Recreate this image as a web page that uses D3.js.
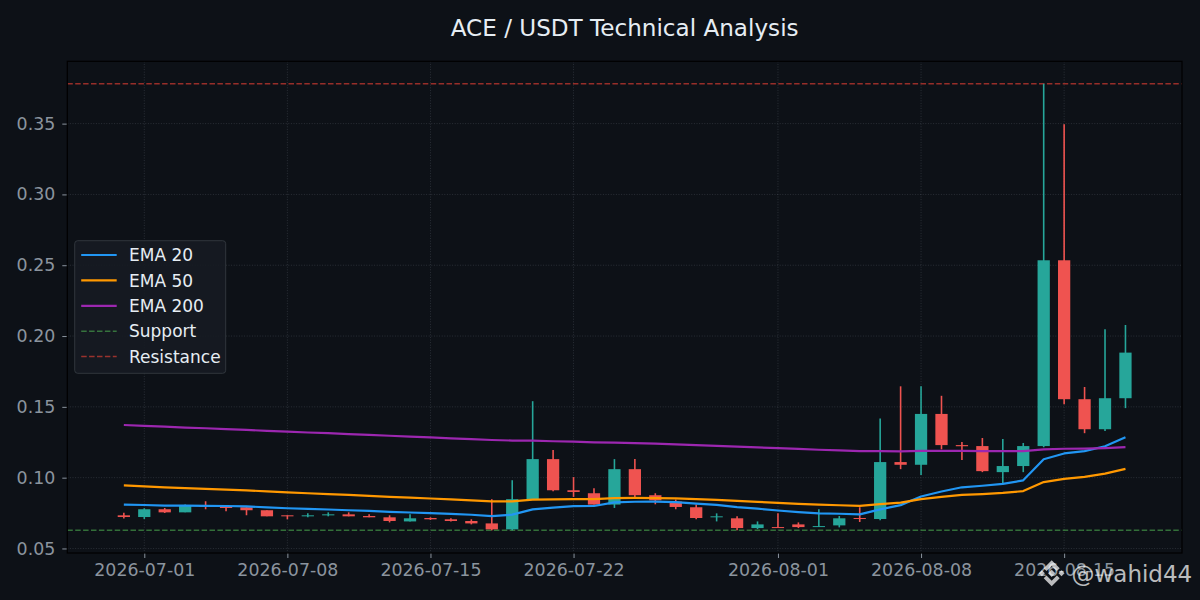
<!DOCTYPE html>
<html>
<head>
<meta charset="utf-8">
<script src="https://cdn.jsdelivr.net/npm/d3@7"></script>
<style>
  html, body { margin: 0; padding: 0; background: #0d1117; }
  svg { display: block; font-family: "DejaVu Sans", sans-serif; }
</style>
</head>
<body>
<div id="app"></div>
<script>
const width = 1200
const height = 600
const margin = { top: 61.3, right: 18, bottom: 47, left: 67.3 }

const dates = [
  '2026-06-30', '2026-07-01', '2026-07-02', '2026-07-03', '2026-07-04', '2026-07-05', '2026-07-06', '2026-07-07',
  '2026-07-08', '2026-07-09', '2026-07-10', '2026-07-11', '2026-07-12', '2026-07-13', '2026-07-14', '2026-07-15',
  '2026-07-16', '2026-07-17', '2026-07-18', '2026-07-19', '2026-07-20', '2026-07-21', '2026-07-22', '2026-07-23',
  '2026-07-24', '2026-07-25', '2026-07-26', '2026-07-27', '2026-07-28', '2026-07-29', '2026-07-30', '2026-07-31',
  '2026-08-01', '2026-08-02', '2026-08-03', '2026-08-04', '2026-08-05', '2026-08-06', '2026-08-07', '2026-08-08',
  '2026-08-09', '2026-08-10', '2026-08-11', '2026-08-12', '2026-08-13', '2026-08-14', '2026-08-15', '2026-08-16',
  '2026-08-17', '2026-08-18'
]
const open = [
  0.0734, 0.0722, 0.0777, 0.0755, 0.0800, 0.0793, 0.0791, 0.0770, 0.0734, 0.0727,
  0.0734, 0.0741, 0.0729, 0.0720, 0.0691, 0.0715, 0.0706, 0.0694, 0.0677, 0.0635,
  0.0848, 0.1131, 0.0911, 0.0890, 0.0810, 0.1060, 0.0876, 0.0831, 0.0791, 0.0722,
  0.0713, 0.0644, 0.0651, 0.0670, 0.0651, 0.0663, 0.0715, 0.0708, 0.1110, 0.1091,
  0.1450, 0.1230, 0.1223, 0.1039, 0.1082, 0.1223, 0.2535, 0.1554, 0.1342, 0.1561
]
const high = [
  0.0753, 0.0784, 0.0786, 0.0810, 0.0833, 0.0793, 0.0791, 0.0770, 0.0734, 0.0748,
  0.0755, 0.0755, 0.0741, 0.0734, 0.0741, 0.0720, 0.0713, 0.0706, 0.0848, 0.0982,
  0.1540, 0.1195, 0.1004, 0.0926, 0.1131, 0.1131, 0.0890, 0.0845, 0.0810, 0.0748,
  0.0727, 0.0691, 0.0748, 0.0684, 0.0777, 0.0729, 0.0791, 0.1418, 0.1645, 0.1645,
  0.1578, 0.1252, 0.1280, 0.1273, 0.1245, 0.3782, 0.3495, 0.1640, 0.2048, 0.2078
]
const low = [
  0.0711, 0.0708, 0.0750, 0.0755, 0.0777, 0.0762, 0.0734, 0.0727, 0.0706, 0.0720,
  0.0727, 0.0727, 0.0720, 0.0684, 0.0691, 0.0701, 0.0691, 0.0670, 0.0628, 0.0628,
  0.0845, 0.0904, 0.0864, 0.0810, 0.0786, 0.0860, 0.0812, 0.0777, 0.0706, 0.0691,
  0.0628, 0.0637, 0.0644, 0.0644, 0.0651, 0.0649, 0.0687, 0.0699, 0.1060, 0.1018,
  0.1200, 0.1124, 0.1039, 0.0963, 0.1039, 0.1214, 0.1519, 0.1314, 0.1330, 0.1491
]
const close = [
  0.0722, 0.0777, 0.0755, 0.0800, 0.0793, 0.0786, 0.0770, 0.0727, 0.0729, 0.0734,
  0.0741, 0.0727, 0.0720, 0.0694, 0.0713, 0.0706, 0.0694, 0.0677, 0.0635, 0.0848,
  0.1131, 0.0911, 0.0899, 0.0810, 0.1060, 0.0876, 0.0840, 0.0793, 0.0715, 0.0727,
  0.0644, 0.0670, 0.0644, 0.0651, 0.0658, 0.0713, 0.0708, 0.1110, 0.1091, 0.1450,
  0.1230, 0.1222, 0.1046, 0.1082, 0.1223, 0.2535, 0.1554, 0.1342, 0.1561, 0.1883
]
const ema20 = [
  0.0810, 0.0807, 0.0802, 0.0802, 0.0801, 0.0800, 0.0797, 0.0790, 0.0784, 0.0779,
  0.0775, 0.0770, 0.0765, 0.0758, 0.0754, 0.0749, 0.0744, 0.0738, 0.0728, 0.0739,
  0.0776, 0.0789, 0.0799, 0.0800, 0.0825, 0.0830, 0.0831, 0.0827, 0.0816, 0.0808,
  0.0792, 0.0781, 0.0768, 0.0757, 0.0748, 0.0745, 0.0741, 0.0776, 0.0806, 0.0867,
  0.0902, 0.0932, 0.0943, 0.0956, 0.0981, 0.1130, 0.1171, 0.1187, 0.1222, 0.1285
]
const ema50 = [
  0.0945, 0.0938, 0.0931, 0.0926, 0.0921, 0.0916, 0.0910, 0.0903, 0.0896, 0.0890,
  0.0884, 0.0878, 0.0872, 0.0865, 0.0859, 0.0853, 0.0847, 0.0840, 0.0832, 0.0833,
  0.0845, 0.0847, 0.0849, 0.0848, 0.0856, 0.0857, 0.0856, 0.0854, 0.0848, 0.0843,
  0.0836, 0.0829, 0.0822, 0.0815, 0.0809, 0.0805, 0.0801, 0.0813, 0.0824, 0.0849,
  0.0864, 0.0878, 0.0884, 0.0892, 0.0905, 0.0969, 0.0992, 0.1006, 0.1028, 0.1062
]
const ema200 = [
  0.1372, 0.1366, 0.1360, 0.1354, 0.1349, 0.1343, 0.1337, 0.1331, 0.1325, 0.1319,
  0.1314, 0.1308, 0.1302, 0.1296, 0.1290, 0.1284, 0.1278, 0.1272, 0.1266, 0.1262,
  0.1261, 0.1257, 0.1254, 0.1249, 0.1247, 0.1244, 0.1240, 0.1235, 0.1230, 0.1225,
  0.1219, 0.1214, 0.1208, 0.1203, 0.1197, 0.1192, 0.1187, 0.1187, 0.1186, 0.1189,
  0.1189, 0.1189, 0.1188, 0.1187, 0.1187, 0.1200, 0.1204, 0.1205, 0.1209, 0.1216
]
const support = 0.0628
const resistance = 0.3782

const yTicks = [0.05, 0.10, 0.15, 0.20, 0.25, 0.30, 0.35]
const xTickDates = ['2026-07-01', '2026-07-08', '2026-07-15', '2026-07-22', '2026-08-01', '2026-08-08', '2026-08-15']

const colors = {
  bg: '#0d1117',
  up: '#26a69a',
  down: '#ef5350',
  ema20: '#2196f3',
  ema50: '#ff9800',
  ema200: '#9c27b0',
  support: '#4caf50',
  resistance: '#f44336',
  tick: '#8b949e',
  text: '#e6edf3'
}

const parse = d3.utcParse('%Y-%m-%d')
const DAY = 864e5
const candles = dates.map((d, i) => ({
  date: parse(d), open: open[i], high: high[i], low: low[i], close: close[i]
}))

const pad = 2.766 * DAY
const x = d3.scaleUtc()
  .domain([+candles[0].date - pad, +candles[candles.length - 1].date + pad])
  .range([margin.left, width - margin.right])

const y = d3.scaleLinear()
  .domain([0.0468, 0.3940])
  .range([height - margin.bottom, margin.top])

const bodyW = x(new Date(DAY * 0.6)) - x(new Date(0))

const svg = d3.select('#app').append('svg')
  .attr('width', width)
  .attr('height', height)

svg.append('rect')
  .attr('width', width)
  .attr('height', height)
  .attr('fill', colors.bg)

svg.append('text')
  .attr('x', (margin.left + width - margin.right) / 2)
  .attr('y', 36)
  .attr('text-anchor', 'middle')
  .attr('fill', colors.text)
  .attr('font-size', '23.1px')
  .text('ACE / USDT Technical Analysis')

svg.append('defs').append('clipPath').attr('id', 'plot')
  .append('rect')
  .attr('x', margin.left)
  .attr('y', margin.top)
  .attr('width', width - margin.left - margin.right)
  .attr('height', height - margin.top - margin.bottom)

// grid
const grid = svg.append('g')
  .attr('stroke', colors.tick)
  .attr('stroke-opacity', 0.3)
  .attr('stroke-width', 0.8)
  .attr('stroke-dasharray', '1,1.6')

grid.selectAll('.gy')
  .data(yTicks)
  .join('line')
  .attr('x1', margin.left)
  .attr('x2', width - margin.right)
  .attr('y1', d => y(d))
  .attr('y2', d => y(d))

grid.selectAll('.gx')
  .data(xTickDates.map(parse))
  .join('line')
  .attr('x1', d => x(d))
  .attr('x2', d => x(d))
  .attr('y1', margin.top)
  .attr('y2', height - margin.bottom)

const plot = svg.append('g').attr('clip-path', 'url(#plot)')

// support / resistance
const levels = [
  { value: support, color: colors.support },
  { value: resistance, color: colors.resistance }
]
plot.selectAll('.level')
  .data(levels)
  .join('line')
  .attr('x1', margin.left)
  .attr('x2', width - margin.right)
  .attr('y1', d => y(d.value))
  .attr('y2', d => y(d.value))
  .attr('stroke', d => d.color)
  .attr('stroke-opacity', 0.6)
  .attr('stroke-width', 1.5)
  .attr('stroke-dasharray', '5.5,2.4')

// candles
const candle = plot.selectAll('.candle')
  .data(candles)
  .join('g')
  .attr('fill', d => d.close >= d.open ? colors.up : colors.down)
  .attr('stroke', d => d.close >= d.open ? colors.up : colors.down)

candle.append('line')
  .attr('x1', d => x(d.date))
  .attr('x2', d => x(d.date))
  .attr('y1', d => y(d.high))
  .attr('y2', d => y(d.low))
  .attr('stroke-width', 1.6)

candle.append('rect')
  .attr('x', d => x(d.date) - bodyW / 2)
  .attr('width', bodyW)
  .attr('y', d => y(Math.max(d.open, d.close)))
  .attr('height', d => Math.max(1, Math.abs(y(d.open) - y(d.close))))
  .attr('stroke', 'none')

// EMA lines
const emaSeries = [
  { name: 'EMA 20', values: ema20, color: colors.ema20 },
  { name: 'EMA 50', values: ema50, color: colors.ema50 },
  { name: 'EMA 200', values: ema200, color: colors.ema200 }
]
const line = d3.line()
  .x((d, i) => x(candles[i].date))
  .y(d => y(d))

plot.selectAll('.ema')
  .data(emaSeries)
  .join('path')
  .attr('d', d => line(d.values))
  .attr('fill', 'none')
  .attr('stroke', d => d.color)
  .attr('stroke-width', 2.2)
  .attr('stroke-linejoin', 'round')

// axes
const xAxis = svg.append('g')
  .attr('transform', `translate(0,${height - margin.bottom})`)
  .call(d3.axisBottom(x)
    .tickValues(xTickDates.map(parse))
    .tickFormat(d3.utcFormat('%Y-%m-%d'))
    .tickSize(5)
    .tickPadding(6))

const yAxis = svg.append('g')
  .attr('transform', `translate(${margin.left},0)`)
  .call(d3.axisLeft(y)
    .tickValues(yTicks)
    .tickFormat(d3.format('.2f'))
    .tickSize(5)
    .tickPadding(7))

;[xAxis, yAxis].forEach(a => {
  a.select('.domain').remove()
  a.selectAll('.tick line').attr('stroke', colors.tick).attr('stroke-width', 1)
  a.selectAll('.tick text')
    .attr('fill', colors.tick)
    .attr('font-size', '17.4px')
    .attr('font-family', '"DejaVu Sans", sans-serif')
})

svg.append('rect')
  .attr('x', margin.left)
  .attr('y', margin.top)
  .attr('width', width - margin.left - margin.right)
  .attr('height', height - margin.top - margin.bottom)
  .attr('fill', 'none')
  .attr('stroke', '#000')
  .attr('stroke-width', 1.2)

// legend
const legendItems = [
  ...emaSeries.map(s => ({ name: s.name, color: s.color, dash: null, opacity: 1 })),
  { name: 'Support', color: colors.support, dash: '5.5,2.4', opacity: 0.6 },
  { name: 'Resistance', color: colors.resistance, dash: '5.5,2.4', opacity: 0.6 }
]
const legend = svg.append('g').attr('transform', 'translate(74.7,240.7)')
legend.append('rect')
  .attr('width', 151)
  .attr('height', 132.6)
  .attr('rx', 3)
  .attr('fill', '#161b22')
  .attr('fill-opacity', 0.9)
  .attr('stroke', '#30363d')
  .attr('stroke-width', 1)

const row = legend.selectAll('.row')
  .data(legendItems)
  .join('g')
  .attr('transform', (d, i) => `translate(0,${14.3 + i * 25.4})`)

row.append('line')
  .attr('x1', 6.5)
  .attr('x2', 42)
  .attr('stroke', d => d.color)
  .attr('stroke-opacity', d => d.opacity)
  .attr('stroke-width', d => d.dash ? 1.5 : 2.2)
  .attr('stroke-dasharray', d => d.dash)

row.append('text')
  .attr('x', 54.3)
  .attr('dy', '0.36em')
  .attr('fill', colors.text)
  .attr('font-size', '17px')
  .text(d => d.name)

// watermark
const mark = svg.append('g')
  .attr('fill', '#fff')
  .attr('fill-opacity', 0.72)

const logo = mark.append('g').attr('transform', 'translate(1051.7,573.3)')
const logoShapes = [
  [[0, -13], [8, -5], [5.2, -2.2], [0, -7.4], [-5.2, -2.2], [-8, -5]],
  [[0, 13], [8, 5], [5.2, 2.2], [0, 7.4], [-5.2, 2.2], [-8, 5]],
  [[-12.8, 0], [-9.8, -3], [-6.8, 0], [-9.8, 3]],
  [[12.8, 0], [9.8, -3], [6.8, 0], [9.8, 3]],
  [[0, -3.6], [3.6, 0], [0, 3.6], [-3.6, 0]]
]
logo.selectAll('path')
  .data(logoShapes)
  .join('path')
  .attr('d', d => 'M' + d.join('L') + 'Z')

mark.append('text')
  .attr('x', 1071.5)
  .attr('y', 582)
  .attr('font-size', '23px')
  .text('@wahid44')
</script>
</body>
</html>
